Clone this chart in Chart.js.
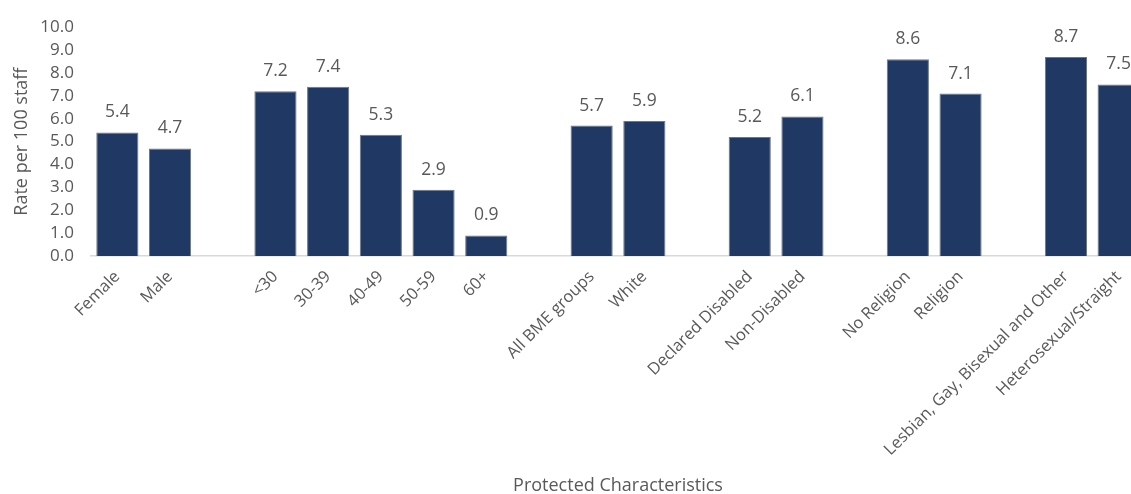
<!DOCTYPE html>
<html>
<head>
<meta charset="utf-8">
<script src="https://cdn.jsdelivr.net/npm/chart.js@4/dist/chart.umd.min.js"></script>
<style>
  html, body { margin: 0; padding: 0; background: #ffffff; overflow: hidden; }
  #wrap { width: 1131px; height: 494px; overflow: hidden; }
  canvas { display: block; }
</style>
</head>
<body>
<div id="wrap"><canvas id="chart" width="1145" height="494"></canvas></div>
<script>
// Categories, with empty slots separating the characteristic groups
const categories = [
  'Female', 'Male', '',
  '<30', '30-39', '40-49', '50-59', '60+', '',
  'All BME groups', 'White', '',
  'Declared Disabled', 'Non-Disabled', '',
  'No Religion', 'Religion', '',
  'Lesbian, Gay, Bisexual and Other', 'Heterosexual/Straight'
];

// Rate per 100 staff (null for the spacer slots)
const rates = [
  5.4, 4.7, null,
  7.2, 7.4, 5.3, 2.9, 0.9, null,
  5.7, 5.9, null,
  5.2, 6.1, null,
  8.6, 7.1, null,
  8.7, 7.5
];

const yMin = 0;
const yMax = 10;
const yStep = 1;

const axisTitleY = 'Rate per 100 staff';
const axisTitleX = 'Protected Characteristics';

const TEXT = '#595959';
const FONT = "'Open Sans', 'DejaVu Sans', sans-serif";

// Writes each bar's value above it
const valueLabels = {
  id: 'valueLabels',
  afterDatasetsDraw(chart) {
    const ctx = chart.ctx;
    const meta = chart.getDatasetMeta(0);
    const data = chart.data.datasets[0].data;
    ctx.save();
    ctx.font = '17.5px ' + FONT;
    ctx.fillStyle = TEXT;
    ctx.textAlign = 'center';
    ctx.textBaseline = 'middle';
    meta.data.forEach((bar, i) => {
      const v = data[i];
      if (v === null || v === undefined) return;
      ctx.fillText(v.toFixed(1), bar.x, bar.y - 20);
    });
    ctx.restore();
  }
};

new Chart(document.getElementById('chart'), {
  type: 'bar',
  data: {
    labels: categories,
    datasets: [{
      data: rates,
      backgroundColor: '#203864',
      borderColor: '#6d7687',
      borderWidth: 1,
      categoryPercentage: 0.8,
      barPercentage: 1.0
    }]
  },
  options: {
    responsive: false,
    devicePixelRatio: 1,
    animation: false,
    layout: { padding: { left: 8, top: 23, right: 0, bottom: 0 } },
    plugins: {
      legend: { display: false },
      tooltip: { enabled: false }
    },
    scales: {
      x: {
        grid: { display: false, drawTicks: false },
        border: { display: true, color: '#d9d9d9', width: 1.5 },
        ticks: {
          autoSkip: false,
          maxRotation: 45,
          minRotation: 45,
          padding: 11,
          color: TEXT,
          font: { family: FONT, size: 16.5 }
        },
        title: {
          display: true,
          text: axisTitleX,
          color: TEXT,
          font: { family: FONT, size: 18 },
          padding: { top: 0, bottom: -3 }
        },
        afterFit(scale) { scale.height = 238; }
      },
      y: {
        min: yMin,
        max: yMax,
        grid: { display: false, drawTicks: false },
        border: { display: false },
        ticks: {
          autoSkip: false,
          stepSize: yStep,
          padding: 17,
          color: TEXT,
          font: { family: FONT, size: 17 },
          callback: (v) => Number(v).toFixed(1)
        },
        title: {
          display: true,
          text: axisTitleY,
          color: TEXT,
          font: { family: FONT, size: 18 },
          padding: { top: 3, bottom: 0 }
        },
        afterFit(scale) { scale.width = 83; }
      }
    }
  },
  plugins: [valueLabels]
});
</script>
</body>
</html>
